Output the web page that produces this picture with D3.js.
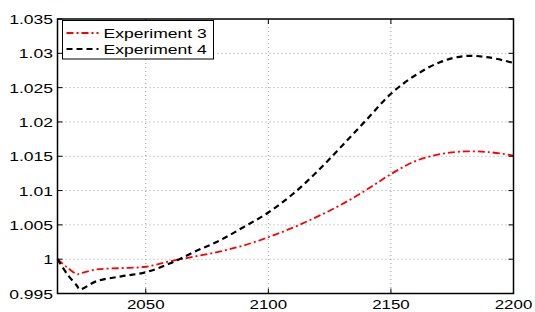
<!DOCTYPE html>
<html>
<head>
<meta charset="utf-8">
<script src="https://cdn.jsdelivr.net/npm/d3@7"></script>
<style>
  body { margin: 0; background: #fff; }
  text { font-family: "Liberation Sans", Arial, sans-serif; font-size: 13.5px; fill: #000; }
</style>
</head>
<body>
<script>
var svgWidth = 535;
var svgHeight = 312;

var margin = { top: 19, right: 21.5, bottom: 18.5, left: 57.5 };
var width = svgWidth - margin.left - margin.right;
var height = svgHeight - margin.top - margin.bottom;

// Data
var years = [2014, 2018, 2022, 2023, 2030, 2040, 2050, 2060, 2070, 2080, 2090, 2100, 2110, 2120, 2130, 2140, 2150, 2160, 2170, 2180, 2190, 2200];
var exp3 = [1.0000, 0.9988, 0.9978, 0.9979, 0.9985, 0.9987, 0.9989, 0.9997, 1.0004, 1.0011, 1.0020, 1.0032, 1.0046, 1.0062, 1.0080, 1.0101, 1.0124, 1.0143, 1.0153, 1.0157, 1.0156, 1.0151];
var exp4 = [1.0000, 0.9978, 0.9961, 0.9956, 0.9968, 0.9975, 0.9981, 0.9994, 1.0011, 1.0027, 1.0047, 1.0068, 1.0095, 1.0128, 1.0165, 1.0203, 1.0241, 1.0268, 1.0287, 1.0296, 1.0294, 1.0286];
var seriesNames = ["Experiment 3", "Experiment 4"];
var xTicks = [2050, 2100, 2150, 2200];
var yTicks = [0.995, 1, 1.005, 1.01, 1.015, 1.02, 1.025, 1.03, 1.035];
var yTickLabels = ["0.995", "1", "1.005", "1.01", "1.015", "1.02", "1.025", "1.03", "1.035"];

var stretch = 1.3; // text in the reference is wider than tall

var svg = d3.select("body")
  .append("svg")
  .attr("width", svgWidth)
  .attr("height", svgHeight);

var chartGroup = svg.append("g")
  .attr("transform", `translate(${margin.left}, ${margin.top})`);

var xScale = d3.scaleLinear().domain([2014, 2200]).range([0, width]);
var yScale = d3.scaleLinear().domain([0.995, 1.035]).range([height, 0]);

// grid lines
chartGroup.selectAll(".vgrid")
  .data(xTicks.filter(d => d < 2200))
  .enter()
  .append("line")
  .attr("x1", d => xScale(d)).attr("x2", d => xScale(d))
  .attr("y1", 0).attr("y2", height)
  .attr("stroke", "#9a9a9a")
  .attr("stroke-width", 1)
  .attr("stroke-dasharray", "1,3");

chartGroup.selectAll(".hgrid")
  .data(yTicks.filter(d => d > 0.995 && d < 1.035))
  .enter()
  .append("line")
  .attr("x1", 0).attr("x2", width)
  .attr("y1", d => yScale(d)).attr("y2", d => yScale(d))
  .attr("stroke", "#9a9a9a")
  .attr("stroke-width", 1)
  .attr("stroke-dasharray", "1,3");

// lines
var lineGen = d3.line()
  .x((d, i) => xScale(years[i]))
  .y(d => yScale(d))
  .curve(d3.curveCatmullRom.alpha(0.5));

chartGroup.append("path")
  .attr("d", lineGen(exp3))
  .attr("fill", "none")
  .attr("stroke", "#ff0000")
  .attr("stroke-width", 1.8)
  .attr("stroke-dasharray", "7,3,2,3");

chartGroup.append("path")
  .attr("d", lineGen(exp4))
  .attr("fill", "none")
  .attr("stroke", "#000")
  .attr("stroke-width", 2.2)
  .attr("stroke-dasharray", "6,4");

// axes box with inward ticks
var tickLen = 5;
chartGroup.append("rect")
  .attr("x", 0).attr("y", 0)
  .attr("width", width).attr("height", height)
  .attr("fill", "none")
  .attr("stroke", "#000")
  .attr("stroke-width", 1.5);

xTicks.forEach(function(t) {
  var x = xScale(t);
  chartGroup.append("line").attr("x1", x).attr("x2", x).attr("y1", height).attr("y2", height - tickLen).attr("stroke", "#000");
  chartGroup.append("line").attr("x1", x).attr("x2", x).attr("y1", 0).attr("y2", tickLen).attr("stroke", "#000");
  chartGroup.append("g")
    .attr("transform", `translate(${x}, ${height + 15.8}) scale(${stretch}, 1)`)
    .append("text")
    .attr("text-anchor", "middle")
    .style("font-size", "13px")
    .text(t);
});

yTicks.forEach(function(t, i) {
  var y = yScale(t);
  chartGroup.append("line").attr("x1", 0).attr("x2", tickLen).attr("y1", y).attr("y2", y).attr("stroke", "#000");
  chartGroup.append("line").attr("x1", width).attr("x2", width - tickLen).attr("y1", y).attr("y2", y).attr("stroke", "#000");
  chartGroup.append("g")
    .attr("transform", `translate(-4.5, ${y + 5}) scale(${stretch}, 1)`)
    .append("text")
    .attr("text-anchor", "end")
    .text(yTickLabels[i]);
});

// legend
var legend = svg.append("g").attr("transform", "translate(62.5, 20.5)");
legend.append("rect")
  .attr("width", 151).attr("height", 38.5)
  .attr("fill", "#fff")
  .attr("stroke", "#000")
  .attr("stroke-width", 1);

var legendStyles = [
  { color: "#ff0000", dash: "7,3,2,3", w: 1.8 },
  { color: "#000", dash: "6,4", w: 2.2 }
];

seriesNames.forEach(function(name, i) {
  var cy = 12.5 + i * 16;
  legend.append("line")
    .attr("x1", 4).attr("x2", 36)
    .attr("y1", cy).attr("y2", cy)
    .attr("stroke", legendStyles[i].color)
    .attr("stroke-width", legendStyles[i].w)
    .attr("stroke-dasharray", legendStyles[i].dash);
  legend.append("g")
    .attr("transform", `translate(41, ${cy + 4.8}) scale(${stretch}, 1)`)
    .append("text")
    .text(name);
});
</script>
</body>
</html>
